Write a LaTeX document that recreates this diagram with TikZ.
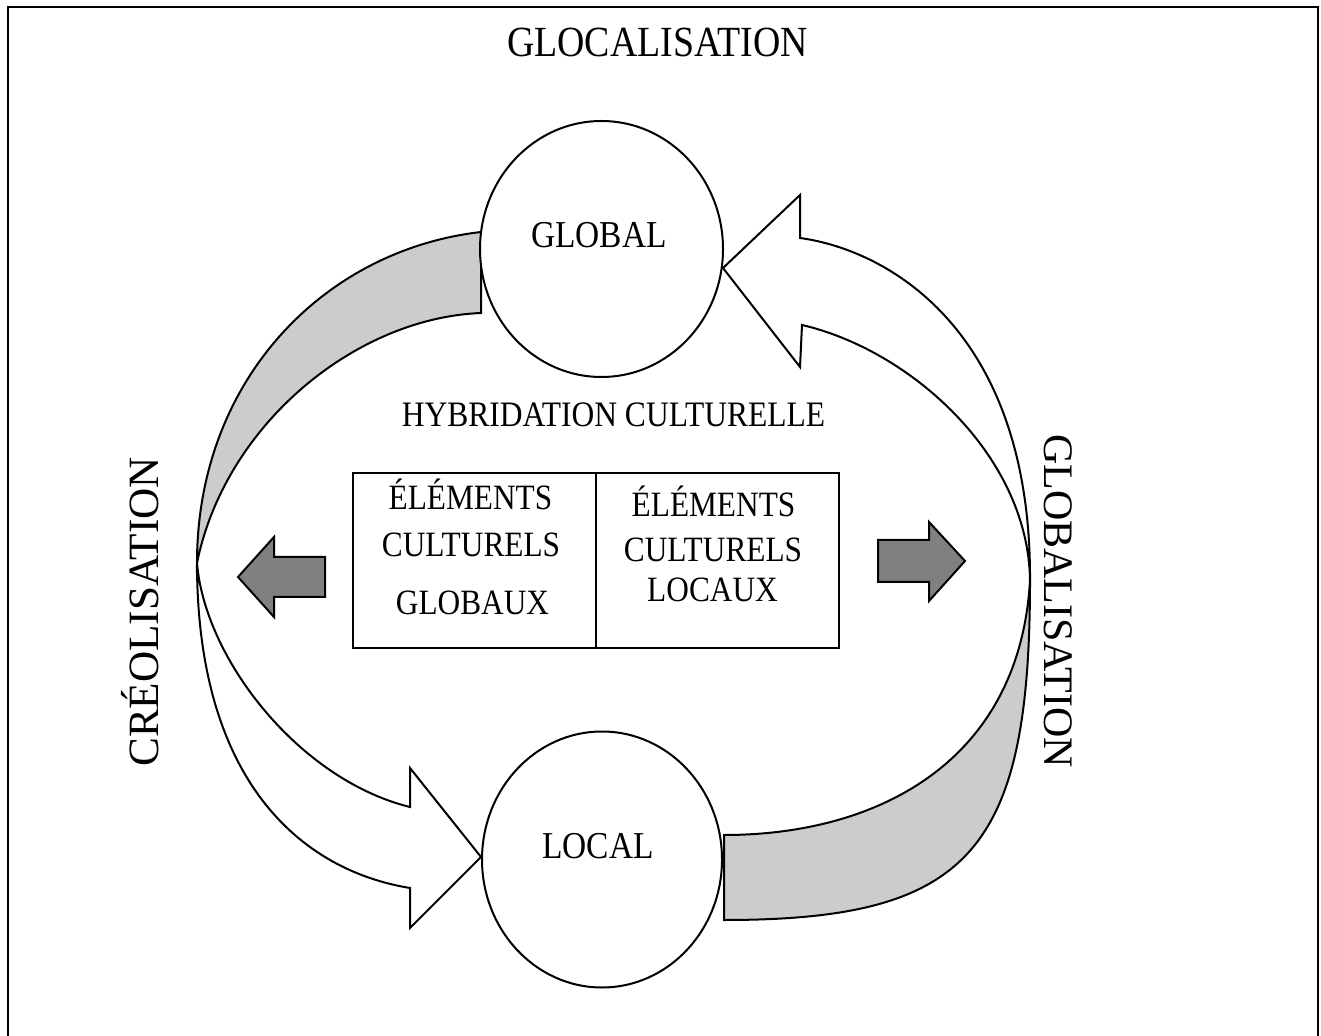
\documentclass[tikz,border=0pt]{standalone}
\usepackage{fontspec}
\setmainfont[FakeStretch=0.88]{Liberation Serif}
\newfontfamily\rotfont{Liberation Serif}
\usetikzlibrary{shapes.geometric}
\definecolor{bandgray}{RGB}{204,204,204}
\definecolor{arrowgray}{RGB}{128,128,128}
\begin{document}
\begin{tikzpicture}[x=0.5pt,y=-0.5pt,line width=1pt,
  back/.style={draw=black,fill=bandgray,line join=miter},
  front/.style={draw=black,fill=white,line join=miter},
  fat/.style={draw=black,fill=arrowgray,line join=miter},
  disc/.style={ellipse,draw=black,fill=white,inner sep=0pt,outer sep=0pt},
  cell/.style={rectangle,draw=black,minimum width=121.5pt,minimum height=87.5pt,inner sep=0pt,outer sep=0pt,anchor=north west},
  lbl/.style={anchor=base,inner sep=0pt}]
\useasboundingbox (0,0) rectangle (1321,1036);
% frame
\draw (8,1036) -- (8,7.5) -- (1318,7.5) -- (1318,1036);
% title
\node[lbl,font=\fontsize{21.5}{24}\selectfont] (title) at (657.5,57) {GLOCALISATION};
% meeting points of the ribbons
\coordinate (lm) at (197,563);
\coordinate (rm) at (1030,580);
% left curved arrow: back (grey) part
\filldraw[back] (481,232) .. controls (324,250) and (197,380) .. (lm)
  .. controls (225,425) and (355,318) .. (481,313) -- cycle;
% right curved arrow: back (grey) part
\filldraw[back] (rm) .. controls (1030,852) and (969,920) .. (724,920)
  -- (724,835) .. controls (880,835) and (1020,760) .. (rm) -- cycle;
% left curved arrow: front (white) part
\filldraw[front] (lm) .. controls (197,780) and (300,870) .. (410,888)
  -- (410,928) -- (481,857) -- (410,768) -- (410,807)
  .. controls (300,780) and (205,660) .. (lm) -- cycle;
% right curved arrow: front (white) part
\filldraw[front] (rm) .. controls (1031,330) and (888,250) .. (800,238)
  -- (800,195) -- (723,268) -- (800,367) -- (802,325)
  .. controls (910,350) and (1028,455) .. (rm) -- cycle;
% circles
\node[disc,minimum width=121.5pt,minimum height=128pt] (global) at (601.5,249) {};
\node[disc,minimum width=120pt,minimum height=128pt] (local) at (602,859.5) {};
\node[lbl,font=\fontsize{19}{22}\selectfont] (globaltxt) at (599,248) {GLOBAL};
\node[lbl,font=\fontsize{19}{22}\selectfont] (localtxt) at (598,858) {LOCAL};
% centre
\node[lbl,font=\fontsize{17.9}{21}\selectfont] (hyb) at (613.5,427) {HYBRIDATION CULTURELLE};
\node[cell] (cellL) at (353,473) {};
\node[cell] (cellR) at (596,473) {};
\begin{scope}[every node/.style={lbl,font=\fontsize{17.8}{21}\selectfont}]
\node (l1) at (470.5,510) {ÉLÉMENTS};
\node (l2) at (471,557) {CULTURELS};
\node (l3) at (472.5,615) {GLOBAUX};
\node (r1) at (713.5,517) {ÉLÉMENTS};
\node (r2) at (713,562) {CULTURELS};
\node (r3) at (712.5,602) {LOCAUX};
\end{scope}
% dark arrows
\filldraw[fat] (325,557) -- (274,557) -- (274,537) -- (238,577) -- (274,617) -- (274,597) -- (325,597) -- cycle;
\filldraw[fat] (878,540) -- (929,540) -- (929,522) -- (965,561) -- (929,601) -- (929,582) -- (878,582) -- cycle;
% side labels
\node[lbl,rotate=90,font=\rotfont\fontsize{21.6}{24}\selectfont] (creo) at (158,612) {CRÉOLISATION};
\node[lbl,rotate=-90,font=\rotfont\fontsize{21}{24}\selectfont] (globa) at (1044,601) {GLOBALISATION};
\end{tikzpicture}
\end{document}
